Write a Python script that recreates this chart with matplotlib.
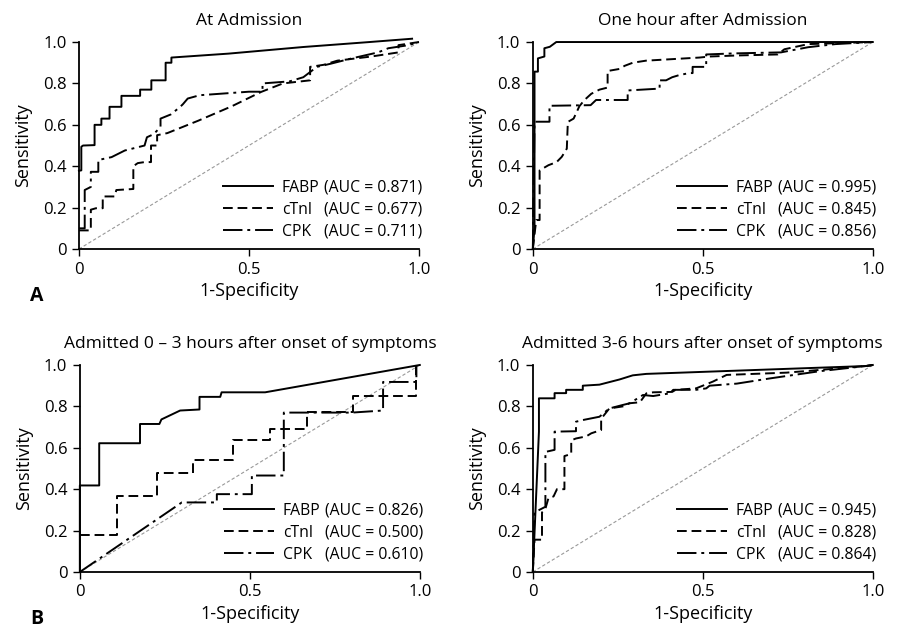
import matplotlib
matplotlib.use("Agg")
import matplotlib.pyplot as plt
from matplotlib.lines import Line2D

plt.rcParams['font.family'] = ['Open Sans', 'DejaVu Sans']
plt.rcParams['font.size'] = 12

# ---- data ----
titles = ["At Admission", "One hour after Admission",
          "Admitted 0 \u2013 3 hours after onset of symptoms",
          "Admitted 3-6 hours after onset of symptoms"]
markers = ["FABP", "cTnl", "CPK"]
auc = [["0.871", "0.677", "0.711"],
       ["0.995", "0.845", "0.856"],
       ["0.826", "0.500", "0.610"],
       ["0.945", "0.828", "0.864"]]

# panel 1: at admission
adm_fabp_x = [0, 0.007, 0.007, 0.012, 0.046, 0.046, 0.066, 0.066, 0.09, 0.09, 0.125, 0.125,
              0.18, 0.18, 0.213, 0.213, 0.255, 0.255, 0.272, 0.272, 0.44, 0.66, 0.855, 0.98]
adm_fabp_y = [0.378, 0.38, 0.494, 0.50, 0.502, 0.60, 0.60, 0.63, 0.63, 0.687, 0.687, 0.74,
              0.74, 0.77, 0.77, 0.815, 0.815, 0.90, 0.90, 0.925, 0.944, 0.976, 1.0, 1.016]
adm_ctni_x = [0, 0.035, 0.035, 0.05, 0.07, 0.07, 0.105, 0.11, 0.16, 0.16, 0.173, 0.193, 0.212,
              0.212, 0.23, 0.23, 0.26, 0.351, 0.45, 0.536, 0.60, 0.68, 0.68, 0.72, 0.76, 0.86,
              0.94, 0.94, 1.0]
adm_ctni_y = [0.09, 0.09, 0.19, 0.197, 0.197, 0.254, 0.254, 0.285, 0.29, 0.40, 0.415, 0.42, 0.42,
              0.50, 0.50, 0.55, 0.56, 0.62, 0.69, 0.759, 0.80, 0.815, 0.88, 0.89, 0.91, 0.93,
              0.95, 0.985, 1.0]
adm_cpk_x = [0, 0.017, 0.017, 0.035, 0.035, 0.057, 0.057, 0.096, 0.135, 0.193, 0.2, 0.22, 0.24,
             0.24, 0.27, 0.298, 0.306, 0.32, 0.355, 0.50, 0.54, 0.54, 0.62, 0.66, 0.70, 0.74,
             0.80, 0.88, 0.91, 0.97, 1.0]
adm_cpk_y = [0.10, 0.10, 0.285, 0.30, 0.373, 0.373, 0.43, 0.444, 0.476, 0.50, 0.54, 0.555, 0.59,
             0.63, 0.65, 0.687, 0.70, 0.727, 0.743, 0.76, 0.76, 0.80, 0.81, 0.83, 0.88, 0.895,
             0.92, 0.95, 0.97, 0.985, 1.0]

# panel 2: one hour after admission
hr1_fabp_x = [0, 0.005, 0.005, 0.015, 0.015, 0.034, 0.034, 0.05, 0.069, 1.0]
hr1_fabp_y = [0, 0.10, 0.857, 0.857, 0.921, 0.93, 0.97, 0.977, 1.0, 1.0]
hr1_ctni_x = [0, 0.01, 0.02, 0.02, 0.046, 0.07, 0.085, 0.10, 0.103, 0.12, 0.137, 0.152, 0.172,
              0.196, 0.22, 0.22, 0.255, 0.27, 0.294, 0.333, 0.49, 0.52, 0.60, 0.72, 0.74, 0.81, 1.0]
hr1_ctni_y = [0, 0.14, 0.14, 0.38, 0.405, 0.42, 0.445, 0.485, 0.614, 0.63, 0.69, 0.72, 0.75,
              0.77, 0.78, 0.86, 0.87, 0.885, 0.90, 0.91, 0.925, 0.93, 0.935, 0.94, 0.965, 0.99, 1.0]
hr1_cpk_x = [0, 0.005, 0.049, 0.049, 0.17, 0.186, 0.255, 0.279, 0.279, 0.373, 0.373, 0.392,
             0.41, 0.43, 0.46, 0.47, 0.47, 0.51, 0.51, 0.59, 0.73, 0.81, 0.89, 1.0]
hr1_cpk_y = [0, 0.615, 0.615, 0.692, 0.695, 0.72, 0.72, 0.72, 0.766, 0.775, 0.815, 0.815,
             0.83, 0.84, 0.85, 0.85, 0.88, 0.88, 0.94, 0.945, 0.95, 0.975, 0.99, 1.0]

# panel 3: admitted 0-3 h after onset
h03_fabp_x = [0, 0, 0.057, 0.057, 0.177, 0.177, 0.234, 0.24, 0.295, 0.352, 0.352, 0.413, 0.417,
              0.545, 1.0]
h03_fabp_y = [0, 0.418, 0.418, 0.622, 0.622, 0.715, 0.715, 0.737, 0.78, 0.785, 0.846, 0.846,
              0.868, 0.868, 1.0]
h03_ctni_x = [0, 0.108, 0.108, 0.226, 0.226, 0.334, 0.334, 0.45, 0.45, 0.558, 0.558, 0.668,
              0.668, 0.804, 0.804, 0.99, 0.99]
h03_ctni_y = [0.177, 0.177, 0.365, 0.365, 0.477, 0.477, 0.54, 0.54, 0.64, 0.64, 0.69, 0.69,
              0.775, 0.775, 0.85, 0.85, 1.0]
h03_cpk_x = [0, 0.30, 0.403, 0.403, 0.506, 0.506, 0.60, 0.60, 0.80, 0.892, 0.892, 0.99, 0.99]
h03_cpk_y = [0, 0.336, 0.336, 0.376, 0.376, 0.466, 0.466, 0.77, 0.77, 0.78, 0.918, 0.918, 1.0]

# panel 4: admitted 3-6 h after onset
h36_fabp_x = [0, 0.018, 0.018, 0.064, 0.064, 0.098, 0.098, 0.147, 0.147, 0.196, 0.255, 0.294,
              0.334, 0.98, 1.0]
h36_fabp_y = [0, 0.678, 0.839, 0.839, 0.864, 0.864, 0.88, 0.88, 0.90, 0.905, 0.93, 0.95,
              0.957, 0.995, 1.0]
h36_ctni_x = [0, 0.005, 0.027, 0.027, 0.036, 0.046, 0.061, 0.071, 0.093, 0.093, 0.113, 0.113,
              0.127, 0.157, 0.172, 0.201, 0.201, 0.225, 0.265, 0.284, 0.315, 0.334, 0.354, 0.41,
              0.42, 0.48, 0.50, 0.53, 0.56, 0.57, 0.65, 0.746, 0.844, 0.98, 1.0]
h36_ctni_y = [0, 0.156, 0.156, 0.288, 0.30, 0.357, 0.365, 0.40, 0.40, 0.56, 0.57, 0.636,
              0.645, 0.655, 0.67, 0.686, 0.74, 0.79, 0.80, 0.815, 0.82, 0.863, 0.868, 0.87,
              0.88, 0.887, 0.90, 0.92, 0.944, 0.952, 0.957, 0.963, 0.976, 0.995, 1.0]
h36_cpk_x = [0, 0.005, 0.037, 0.037, 0.064, 0.064, 0.127, 0.127, 0.147, 0.196, 0.225, 0.265,
             0.285, 0.324, 0.354, 0.403, 0.413, 0.48, 0.51, 0.52, 0.60, 0.697, 0.844, 0.98, 1.0]
h36_cpk_y = [0, 0.288, 0.315, 0.58, 0.59, 0.678, 0.68, 0.726, 0.734, 0.75, 0.79, 0.807,
             0.815, 0.855, 0.85, 0.863, 0.88, 0.88, 0.887, 0.90, 0.91, 0.935, 0.97, 0.995, 1.0]

curves = [
    [(adm_fabp_x, adm_fabp_y), (adm_ctni_x, adm_ctni_y), (adm_cpk_x, adm_cpk_y)],
    [(hr1_fabp_x, hr1_fabp_y), (hr1_ctni_x, hr1_ctni_y), (hr1_cpk_x, hr1_cpk_y)],
    [(h03_fabp_x, h03_fabp_y), (h03_ctni_x, h03_ctni_y), (h03_cpk_x, h03_cpk_y)],
    [(h36_fabp_x, h36_fabp_y), (h36_ctni_x, h36_ctni_y), (h36_cpk_x, h36_cpk_y)],
]

styles = ['-', (0, (5, 2.5)), (0, (10, 2.5, 1.5, 2.5))]

fig = plt.figure(figsize=(8.97, 6.33), dpi=100)
positions = [[0.088, 0.6066, 0.379, 0.327], [0.594, 0.6066, 0.379, 0.327],
             [0.089, 0.0964, 0.379, 0.327], [0.594, 0.0964, 0.379, 0.327]]

for k, pos in enumerate(positions):
    ax = fig.add_axes(pos)
    ax.plot([0, 1], [0, 1], color='#999999', lw=0.8, ls=(0, (3, 2)))
    for (x, y), ls in zip(curves[k], styles):
        ax.plot(x, y, color='black', lw=1.4, ls=ls, clip_on=False)

    ax.set_xlim(0, 1.0)
    ax.set_ylim(0, 1.0)
    ax.set_xticks([0, 0.5, 1.0])
    ax.set_xticklabels(["0", "0.5", "1.0"])
    ax.set_yticks([0, 0.2, 0.4, 0.6, 0.8, 1.0])
    ax.set_yticklabels(["0", "0.2", "0.4", "0.6", "0.8", "1.0"])
    ax.tick_params(direction='out', length=5, width=1, labelsize=12, pad=4)
    for s in ['top', 'right']:
        ax.spines[s].set_visible(False)
    for s in ['left', 'bottom']:
        ax.spines[s].set_linewidth(1.3)
    ax.set_title(titles[k], fontsize=12.5, pad=12)
    ax.set_xlabel("1-Specificity", fontsize=13, labelpad=3)
    ax.set_ylabel("Sensitivity", fontsize=13, labelpad=8)

    handles = [Line2D([], [], color='black', lw=1.4, ls=ls) for ls in styles]
    leg1 = ax.legend(handles, markers, loc='lower left', bbox_to_anchor=(0.424, 0.045),
                     frameon=False, fontsize=11.3, handlelength=3.2, handletextpad=0.55,
                     labelspacing=0.38, borderpad=0, borderaxespad=0)
    ax.add_artist(leg1)
    blanks = [Line2D([], [], color='none') for _ in styles]
    ax.legend(blanks, ["(AUC = %s)" % a for a in auc[k]], loc='lower left',
              bbox_to_anchor=(0.722, 0.045), frameon=False, fontsize=11.3, handlelength=0,
              handletextpad=0, labelspacing=0.38, borderpad=0, borderaxespad=0)

fig.text(0.034, 0.532, "A", fontsize=14, fontweight='bold', va='center')
fig.text(0.034, 0.022, "B", fontsize=14, fontweight='bold', va='center')

fig.savefig("out.png", dpi=100)
